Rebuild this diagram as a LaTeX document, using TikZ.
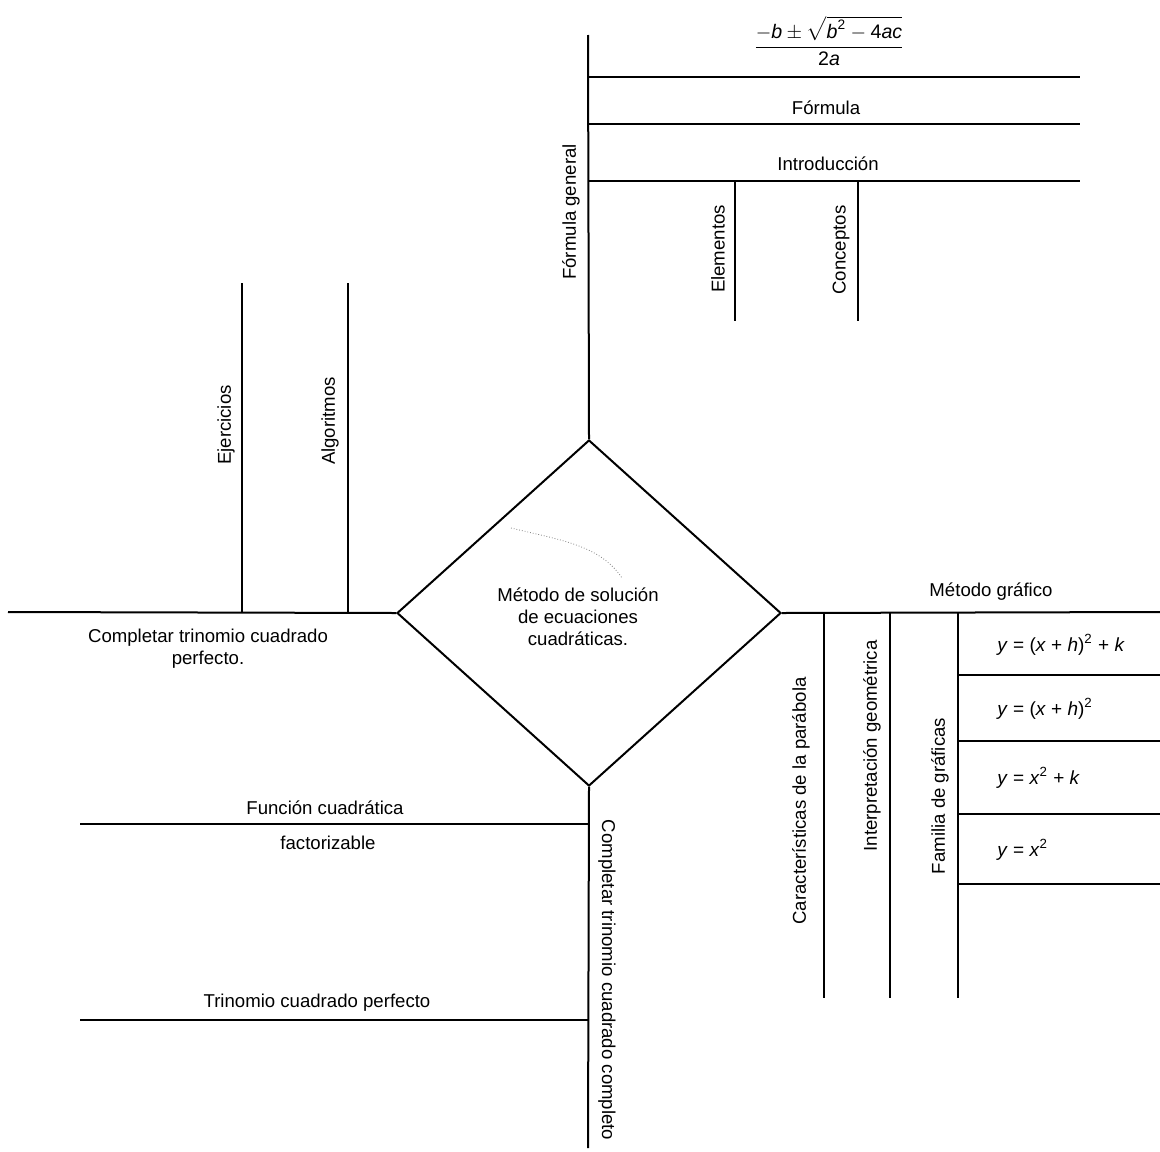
\documentclass[tikz,border=0pt]{standalone}
\usepackage{amsmath}
\usepackage{fontspec}
\setmainfont{Liberation Sans}
\usetikzlibrary{shapes.geometric}
\begin{document}
\begin{tikzpicture}[x=0.5pt,y=-0.5pt,
  ln/.style={line width=1pt,black},
  lbl/.style={inner sep=1pt,font=\fontsize{9.3}{11}\selectfont,align=center},
  vlbl/.style={lbl,rotate=90},
  eq/.style={inner sep=1pt,anchor=west,font=\fontsize{9.5}{11}\selectfont}]
\useasboundingbox (0,0) rectangle (1160,1151);
% central diamond
\node[diamond,draw,line width=1pt,minimum width=192pt,minimum height=173pt,aspect=1.1,inner sep=0pt] (m) at (589,613) {};
\node[lbl] (mt) at (578,617) {Método de solución\\ de ecuaciones\\ cuadráticas.};
\draw[gray,densely dotted,line width=0.4pt] (511,528) .. controls (560,540) and (600,545) .. (622,578);
% top spine
\coordinate (tt) at (588,35);
\draw[ln] (m.north) -- (tt);
\node[vlbl] (fg) at (571,212) {Fórmula general};
\foreach \n/\y in {h1/77,h2/124,h3/181}{
  \coordinate (\n a) at (588,\y); \coordinate (\n b) at (1080,\y);
  \draw[ln] (\n a) -- (\n b);}
\node[inner sep=1pt,font=\fontsize{9.8}{11}\selectfont] (fr) at (829,41)
  {$\dfrac{-\textit{b}\pm\sqrt{\textit{b}^{\text{2}}-\text{4}\textit{ac}}}{\text{2}\textit{a}}$};
\node[lbl] (fo) at (826,108) {Fórmula};
\node[lbl] (in) at (828,164) {Introducción};
\coordinate (e1) at (735,181); \coordinate (e2) at (735,321);
\coordinate (c1) at (858,181); \coordinate (c2) at (858,321);
\draw[ln] (e1) -- (e2);
\draw[ln] (c1) -- (c2);
\node[vlbl] (el) at (718,249) {Elementos};
\node[vlbl] (co) at (841,250) {Conceptos};
% left spine
\coordinate (ll) at (8,612);
\draw[ln] (m.west) -- (ll);
\coordinate (j1) at (242,612); \coordinate (j2) at (242,283);
\coordinate (a1) at (348,612); \coordinate (a2) at (348,283);
\draw[ln] (j1) -- (j2);
\draw[ln] (a1) -- (a2);
\node[vlbl] (ej) at (226,425) {Ejercicios};
\node[vlbl] (al) at (330,421) {Algoritmos};
\node[lbl] (ct) at (208,649) {Completar trinomio cuadrado\\ perfecto.};
% right spine
\coordinate (rr) at (1160,612);
\draw[ln] (m.east) -- (rr);
\node[lbl] (mg) at (991,592) {Método gráfico};
\foreach \n/\x in {v1/824,v2/890,v3/958}{
  \coordinate (\n a) at (\x,612); \coordinate (\n b) at (\x,998);
  \draw[ln] (\n a) -- (\n b);}
\node[vlbl] (cp) at (801,801) {Características de la parábola};
\node[vlbl] (ig) at (872,746) {Interpretación geométrica};
\node[vlbl] (fa) at (940,796) {Familia de gráficas};
\foreach \n/\y in {r1/675,r2/741,r3/814,r4/884}{
  \coordinate (\n a) at (958,\y); \coordinate (\n b) at (1160,\y);
  \draw[ln] (\n a) -- (\n b);}
\node[eq] (q1) at (995,645) {\textit{y} = (\textit{x} + \textit{h})\textsuperscript{2} + \textit{k}};
\node[eq] (q2) at (995,709) {\textit{y} = (\textit{x} + \textit{h})\textsuperscript{2}};
\node[eq] (q3) at (995,778) {\textit{y} = \textit{x}\textsuperscript{2} + \textit{k}};
\node[eq] (q4) at (995,850) {\textit{y} = \textit{x}\textsuperscript{2}};
% bottom spine
\coordinate (bb) at (588,1148);
\draw[ln] (m.south) -- (bb);
\node[lbl,rotate=-90] (cc) at (607,980) {Completar trinomio cuadrado completo};
\coordinate (f1) at (588,824); \coordinate (f2) at (80,824);
\coordinate (t1) at (588,1020); \coordinate (t2) at (80,1020);
\draw[ln] (f1) -- (f2);
\draw[ln] (t1) -- (t2);
\node[lbl] (fc) at (325,808) {Función cuadrática};
\node[lbl] (fz) at (328,843) {factorizable};
\node[lbl] (tc) at (317,1003) {Trinomio cuadrado perfecto};
\end{tikzpicture}
\end{document}
